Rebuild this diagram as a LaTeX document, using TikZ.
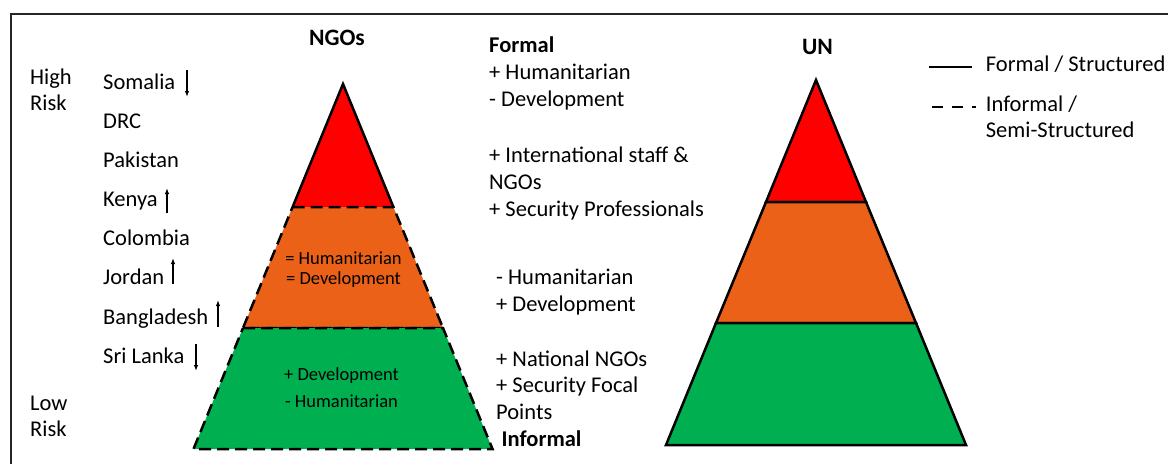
\documentclass[tikz,border=0pt]{standalone}
\usepackage{fontspec}
\setmainfont{Carlito}
\usetikzlibrary{arrows.meta}
\definecolor{riskred}{HTML}{FF0000}
\definecolor{riskorange}{HTML}{EC6118}
\definecolor{riskgreen}{HTML}{00B050}

\begin{document}
\begin{tikzpicture}[x=1pt, y=-1pt, >={Latex[length=6pt,width=4.5pt]},
    font=\fontsize{22.5}{27}\selectfont,
    txt/.style={anchor=base west, inner sep=0pt},
    bold/.style={txt, font=\fontsize{22.5}{27}\selectfont\bfseries},
    head/.style={anchor=base, inner sep=0pt, font=\fontsize{23.5}{27}\selectfont\bfseries},
    inlbl/.style={anchor=base, inner sep=0pt, font=\fontsize{18.5}{22}\selectfont},
    tier/.style={draw, line width=2.5pt, line join=miter},
    loose/.style={tier, dash pattern=on 12pt off 6pt},
    trend/.style={->, line width=1.2pt}]
  \useasboundingbox (0,0) rectangle (1168,464);
  \draw[line width=2pt, black!85] (1168,14) -- (11,14) -- (11,464);

  % risk scale
  \node[txt] (high) at (30,84) {High};
  \node[txt] (highrisk) at (30,110.7) {Risk};
  \node[txt] (low) at (30,410) {Low};
  \node[txt] (lowrisk) at (30,436.7) {Risk};

  % countries
  \node[txt] (somalia) at (103,89.3) {Somalia};
  \node[txt] (drc) at (103,128.5) {DRC};
  \node[txt] (pakistan) at (103,167.5) {Pakistan};
  \node[txt] (kenya) at (103,206.5) {Kenya};
  \node[txt] (colombia) at (103,245.8) {Colombia};
  \node[txt] (jordan) at (103,284.5) {Jordan};
  \node[txt] (bangladesh) at (103,324) {Bangladesh};
  \node[txt] (srilanka) at (103,363.3) {Sri Lanka};
  \draw[trend] (187,70) -- (187,97);
  \draw[trend] (167,213) -- (167,188);
  \draw[trend] (173,284) -- (173,258);
  \draw[trend] (218,327) -- (218,300);
  \draw[trend] (196,344) -- (196,371);

  % NGO pyramid
  \node[head] (ngos) at (337,45.5) {NGOs};
  \fill[riskred] (343,84) -- (393.4,207) -- (292.6,207) -- cycle;
  \draw[tier] (292.6,207) -- (343,84) -- (393.4,207);
  \filldraw[loose, fill=riskorange] (292.6,207) -- (393.4,207) -- (443,328) -- (243,328) -- cycle;
  \filldraw[loose, fill=riskgreen] (243,328) -- (443,328) -- (492.5,449) -- (193.5,449) -- cycle;
  \node[inlbl] (midhum) at (343.5,264) {= Humanitarian};
  \node[inlbl] (middev) at (343.5,284.3) {= Development};
  \node[inlbl] (lowdev) at (341.5,380) {+ Development};
  \node[inlbl] (lowhum) at (341.5,407.7) {- Humanitarian};

  % notes between the pyramids
  \node[bold] (formal) at (489,52.3) {Formal};
  \node[txt] (plushum) at (489,79.6) {+ Humanitarian};
  \node[txt] (minusdev) at (489,106.9) {- Development};
  \node[txt] (intl) at (489,162) {+ International staff \&};
  \node[txt] (intlngo) at (489,189) {NGOs};
  \node[txt] (secpro) at (489,216) {+ Security Professionals};
  \node[txt] (minushum) at (496,284.3) {- Humanitarian};
  \node[txt] (plusdev) at (496,311.7) {+ Development};
  \node[txt] (natngo) at (496,366) {+ National NGOs};
  \node[txt] (secfocal) at (496,392.7) {+ Security Focal};
  \node[txt] (points) at (496,419.3) {Points};
  \node[bold] (informal) at (501.5,446.7) {Informal};

  % UN pyramid
  \node[head] (un) at (817.5,54) {UN};
  \filldraw[tier, fill=riskred] (816,80) -- (866,202) -- (766,202) -- cycle;
  \filldraw[tier, fill=riskorange] (766,202) -- (866,202) -- (916,323) -- (716,323) -- cycle;
  \filldraw[tier, fill=riskgreen] (716,323) -- (916,323) -- (966,445) -- (666,445) -- cycle;

  % legend
  \coordinate (solidA) at (929,67);
  \coordinate (solidB) at (972,67);
  \coordinate (dashA) at (932,107);
  \coordinate (dashB) at (976,107);
  \draw[line width=2.5pt] (solidA) -- (solidB);
  \draw[line width=2.5pt, dash pattern=on 11pt off 9pt] (dashA) -- (dashB);
  \node[txt] (formalkey) at (985.7,71.7) {Formal / Structured};
  \node[txt] (informalkey) at (985.7,111) {Informal /};
  \node[txt] (semikey) at (985.7,137.7) {Semi-Structured};
\end{tikzpicture}
\end{document}
